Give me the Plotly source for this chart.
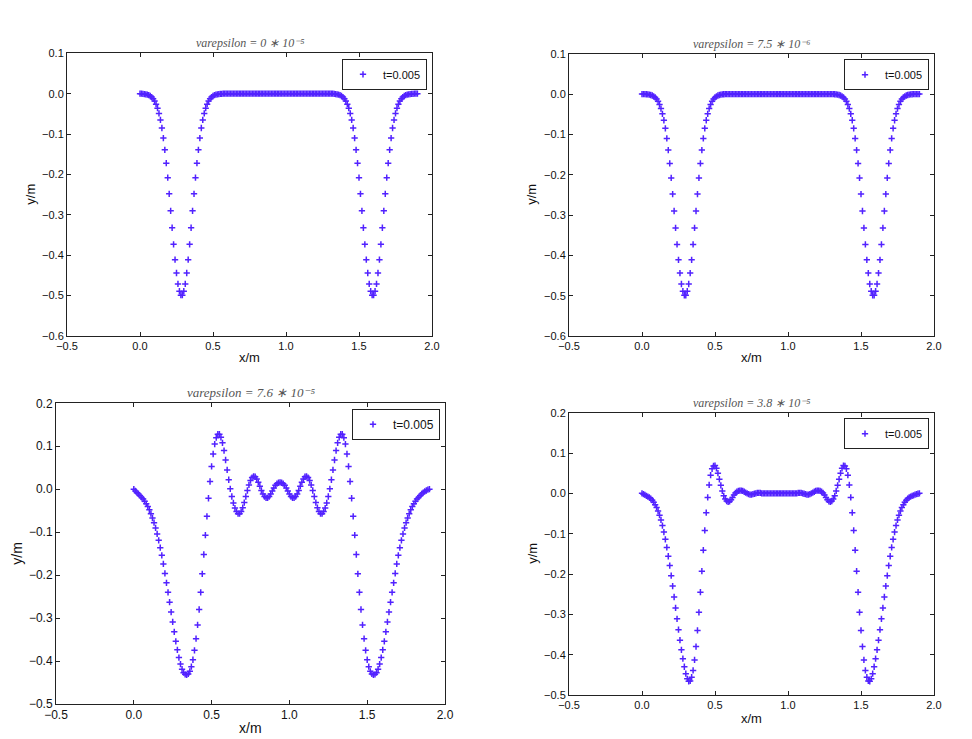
import plotly.graph_objects as go

# sampling grid: x = 0.00 ... 1.90, step 0.01
X_STEP = 0.01
N_POINTS = 191
x_m = [round(i * X_STEP, 2) for i in range(N_POINTS)]

series_name = "t=0.005"

# varepsilon = 0 * 10^-5
y_eps_0 = [
    0, 0, -0.0005, -0.001, -0.0015, -0.0024, -0.0037, -0.0057, -0.0085, -0.0125,
    -0.018, -0.026, -0.036, -0.049, -0.065, -0.085, -0.110, -0.139, -0.172, -0.208,
    -0.248, -0.290, -0.332, -0.373, -0.411, -0.444, -0.471, -0.489, -0.499, -0.499,
    -0.489, -0.471, -0.444, -0.411, -0.373, -0.332, -0.290, -0.248, -0.208, -0.172,
    -0.139, -0.110, -0.085, -0.065, -0.049, -0.036, -0.026, -0.018, -0.0125, -0.0085,
    -0.0057, -0.0037, -0.0024, -0.0015, -0.0009, -0.0005, -0.0003, 0, 0, 0,
    0, 0, 0, 0, 0, 0, 0, 0, 0, 0,
    0, 0, 0, 0, 0, 0, 0, 0, 0, 0,
    0, 0, 0, 0, 0, 0, 0, 0, 0, 0,
    0, 0, 0, 0, 0, 0, 0, 0, 0, 0,
    0, 0, 0, 0, 0, 0, 0, 0, 0, 0,
    0, 0, 0, 0, 0, 0, 0, 0, 0, 0,
    0, 0, 0, 0, 0, 0, 0, 0, 0, 0,
    0, 0, 0, -0.0005, -0.001, -0.0015, -0.0024, -0.0037, -0.0057, -0.0085,
    -0.0125, -0.018, -0.026, -0.036, -0.049, -0.065, -0.085, -0.110, -0.139, -0.172,
    -0.208, -0.248, -0.290, -0.332, -0.373, -0.411, -0.444, -0.471, -0.489, -0.499,
    -0.499, -0.489, -0.471, -0.444, -0.411, -0.373, -0.332, -0.290, -0.248, -0.208,
    -0.172, -0.139, -0.110, -0.085, -0.065, -0.049, -0.036, -0.026, -0.018, -0.0125,
    -0.0085, -0.0057, -0.0037, -0.0024, -0.0015, -0.0009, -0.0005, -0.0003, 0, 0,
    0,
]

# varepsilon = 7.5 * 10^-6
y_eps_7_5e6 = [
    0, 0, 0, -0.0005, -0.001, -0.0015, -0.0024, -0.0037, -0.0057, -0.0085,
    -0.0125, -0.018, -0.026, -0.036, -0.049, -0.065, -0.085, -0.110, -0.139, -0.172,
    -0.208, -0.248, -0.290, -0.332, -0.373, -0.411, -0.444, -0.471, -0.489, -0.499,
    -0.499, -0.489, -0.471, -0.444, -0.411, -0.373, -0.332, -0.290, -0.248, -0.208,
    -0.172, -0.139, -0.110, -0.085, -0.065, -0.049, -0.036, -0.026, -0.018, -0.0125,
    -0.0085, -0.0057, -0.0037, -0.0024, -0.0015, -0.0009, -0.0005, -0.0003, 0, 0,
    0, 0, 0, 0, 0, 0, 0, 0, 0, 0,
    0, 0, 0, 0, 0, 0, 0, 0, 0, 0,
    0, 0, 0, 0, 0, 0, 0, 0, 0, 0,
    0, 0, 0, 0, 0, 0, 0, 0, 0, 0,
    0, 0, 0, 0, 0, 0, 0, 0, 0, 0,
    0, 0, 0, 0, 0, 0, 0, 0, 0, 0,
    0, 0, 0, 0, 0, 0, 0, 0, 0, 0,
    0, 0, -0.0005, -0.001, -0.0015, -0.0024, -0.0037, -0.0057, -0.0085, -0.0125,
    -0.018, -0.026, -0.036, -0.049, -0.065, -0.085, -0.110, -0.139, -0.172, -0.208,
    -0.248, -0.290, -0.332, -0.373, -0.411, -0.444, -0.471, -0.489, -0.499, -0.499,
    -0.489, -0.471, -0.444, -0.411, -0.373, -0.332, -0.290, -0.248, -0.208, -0.172,
    -0.139, -0.110, -0.085, -0.065, -0.049, -0.036, -0.026, -0.018, -0.0125, -0.0085,
    -0.0057, -0.0037, -0.0024, -0.0015, -0.0009, -0.0005, -0.0003, 0, 0, 0,
    0,
]

# varepsilon = 7.6 * 10^-5
y_eps_7_6e5 = [
    0.000, -0.004, -0.008, -0.011, -0.015, -0.019, -0.023, -0.028, -0.034, -0.040,
    -0.048, -0.057, -0.067, -0.078, -0.090, -0.104, -0.119, -0.136, -0.154, -0.174,
    -0.196, -0.218, -0.240, -0.263, -0.286, -0.309, -0.332, -0.354, -0.374, -0.392,
    -0.407, -0.419, -0.427, -0.431, -0.432, -0.430, -0.424, -0.413, -0.397, -0.375,
    -0.348, -0.316, -0.280, -0.240, -0.197, -0.152, -0.107, -0.063, -0.021, 0.018,
    0.053, 0.082, 0.105, 0.120, 0.128, 0.128, 0.121, 0.108, 0.090, 0.068,
    0.045, 0.022, 0.001, -0.017, -0.032, -0.044, -0.052, -0.057, -0.057, -0.052,
    -0.043, -0.031, -0.017, -0.003, 0.010, 0.020, 0.027, 0.030, 0.029, 0.024,
    0.016, 0.007, -0.003, -0.011, -0.017, -0.020, -0.020, -0.017, -0.011, -0.004,
    0.003, 0.009, 0.013, 0.015, 0.016, 0.015, 0.013, 0.009, 0.003, -0.004,
    -0.011, -0.017, -0.020, -0.020, -0.017, -0.011, -0.003, 0.007, 0.016, 0.024,
    0.029, 0.030, 0.027, 0.020, 0.010, -0.003, -0.017, -0.031, -0.043, -0.052,
    -0.057, -0.057, -0.052, -0.044, -0.032, -0.017, 0.001, 0.022, 0.045, 0.068,
    0.090, 0.108, 0.121, 0.128, 0.128, 0.120, 0.105, 0.082, 0.053, 0.018,
    -0.021, -0.063, -0.107, -0.152, -0.197, -0.240, -0.280, -0.316, -0.348, -0.375,
    -0.397, -0.413, -0.424, -0.430, -0.432, -0.431, -0.427, -0.419, -0.407, -0.392,
    -0.374, -0.354, -0.332, -0.309, -0.286, -0.263, -0.240, -0.218, -0.196, -0.174,
    -0.154, -0.136, -0.119, -0.104, -0.090, -0.078, -0.067, -0.057, -0.048, -0.040,
    -0.034, -0.028, -0.023, -0.019, -0.015, -0.011, -0.008, -0.005, -0.003, -0.001,
    0.000,
]

# varepsilon = 3.8 * 10^-5
y_eps_3_8e5 = [
    0.000, -0.002, -0.004, -0.006, -0.008, -0.010, -0.013, -0.017, -0.022, -0.028,
    -0.035, -0.044, -0.054, -0.066, -0.080, -0.096, -0.114, -0.134, -0.156, -0.179,
    -0.204, -0.230, -0.257, -0.284, -0.311, -0.338, -0.364, -0.388, -0.410, -0.430,
    -0.447, -0.460, -0.466, -0.465, -0.456, -0.439, -0.413, -0.380, -0.340, -0.295,
    -0.245, -0.193, -0.141, -0.092, -0.048, -0.010, 0.021, 0.045, 0.061, 0.068,
    0.069, 0.062, 0.050, 0.035, 0.020, 0.006, -0.006, -0.014, -0.019, -0.021,
    -0.020, -0.016, -0.010, -0.004, 0.001, 0.004, 0.006, 0.007, 0.007, 0.006,
    0.004, 0.002, 0.000, -0.002, -0.003, -0.003, -0.002, -0.001, 0.000, 0.001,
    0.001, 0.001, 0.000, 0, 0, 0, 0, 0, 0, 0,
    0, 0, 0, 0, 0, 0, 0, 0, 0, 0,
    0, 0, 0, 0, 0, 0, 0.000, 0.001, 0.001, 0.001,
    0.000, -0.001, -0.002, -0.003, -0.003, -0.002, 0.000, 0.002, 0.004, 0.006,
    0.007, 0.007, 0.006, 0.004, 0.001, -0.004, -0.010, -0.016, -0.020, -0.021,
    -0.019, -0.014, -0.006, 0.006, 0.020, 0.035, 0.050, 0.062, 0.069, 0.068,
    0.061, 0.045, 0.021, -0.010, -0.048, -0.092, -0.141, -0.193, -0.245, -0.295,
    -0.340, -0.380, -0.413, -0.439, -0.456, -0.465, -0.466, -0.460, -0.447, -0.430,
    -0.410, -0.388, -0.364, -0.338, -0.311, -0.284, -0.257, -0.230, -0.204, -0.179,
    -0.156, -0.134, -0.114, -0.096, -0.080, -0.066, -0.054, -0.044, -0.035, -0.028,
    -0.022, -0.017, -0.013, -0.010, -0.008, -0.006, -0.005, -0.003, -0.002, -0.001,
    0.000,
]

for arr in (y_eps_0, y_eps_7_5e6, y_eps_7_6e5, y_eps_3_8e5):
    assert len(arr) == N_POINTS, len(arr)

panel_titles = [
    "varepsilon = 0 \u2217 10\u207b\u2075",
    "varepsilon = 7.5 \u2217 10\u207b\u2076",
    "varepsilon = 7.6 \u2217 10\u207b\u2075",
    "varepsilon = 3.8 \u2217 10\u207b\u2075",
]
x_label = "x/m"
y_label = "y/m"
x_ticks = [-0.5, 0.0, 0.5, 1.0, 1.5, 2.0]

# the page body adds an 8px margin; the figure fills the rest of the window
OFF = 8
W, H = 972 - OFF, 739 - OFF
COLOR = "#5222ff"
AX = "#222222"

# panel boxes in window pixels: (left, right, top, bottom)
panels = [
    dict(y=y_eps_0, title=panel_titles[0], px=(67, 432, 53.3, 336), yr=[-0.6, 0.1],
         fs=(11, 11, 13, 12), xl=21, yl=36),
    dict(y=y_eps_7_5e6, title=panel_titles[1], px=(569, 934, 53.7, 336), yr=[-0.6, 0.1],
         fs=(11, 11, 13, 12), xl=21, yl=37),
    dict(y=y_eps_7_6e5, title=panel_titles[2], px=(56, 445, 403.3, 704), yr=[-0.5, 0.2],
         fs=(12, 12, 14, 13), xl=24, yl=39),
    dict(y=y_eps_3_8e5, title=panel_titles[3], px=(569, 934, 412.7, 695), yr=[-0.5, 0.2],
         fs=(11, 11, 13, 12), xl=23, yl=36),
]

fig = go.Figure()
layout = dict(
    width=W, height=H, autosize=False,
    margin=dict(l=0, r=0, t=0, b=0, pad=0, autoexpand=False),
    paper_bgcolor="white", plot_bgcolor="white",
    showlegend=True,
    font=dict(family="Liberation Sans", size=12, color="#111111"),
)
annotations = []

for k, p in enumerate(panels):
    n = "" if k == 0 else str(k + 1)
    xa, ya = "x" + n, "y" + n
    l, r, t, b = [v - OFF for v in p["px"]]
    f_tick, f_leg, f_lab, f_title = p["fs"]
    fig.add_trace(go.Scatter(
        x=x_m, y=p["y"], mode="markers", name=series_name,
        xaxis=xa, yaxis=ya, legend="legend" + n,
        marker=dict(symbol="cross-thin", size=4.5, color=COLOR,
                    line=dict(width=1.5, color=COLOR)),
    ))
    common = dict(
        showline=True, linecolor=AX, linewidth=1, mirror="allticks",
        ticks="inside", ticklen=4, tickcolor=AX, tickwidth=1,
        showgrid=False, zeroline=False,
        tickfont=dict(family="Liberation Sans", size=f_tick, color="#111111"),
        tickformat=".1f",
    )
    layout["xaxis" + n] = dict(domain=[l / W, r / W], range=[-0.5, 2.0],
                               tickmode="array", tickvals=x_ticks,
                               anchor=ya, **common)
    layout["yaxis" + n] = dict(domain=[1 - b / H, 1 - t / H], range=p["yr"],
                               dtick=0.1, tick0=0, anchor=xa, **common)
    layout["legend" + n] = dict(
        x=(r - 5) / W, y=1 - (t + 5.5) / H, xanchor="right", yanchor="top",
        bordercolor=AX, borderwidth=1, bgcolor="white",
        font=dict(family="Liberation Sans", size=f_leg, color="#111111"),
        itemwidth=30, tracegroupgap=0,
    )
    cx = (l + r) / 2 / W
    annotations.append(dict(
        text=p["title"], x=cx, y=1 - t / H, xref="paper", yref="paper",
        xanchor="center", yanchor="bottom", yshift=1, showarrow=False,
        font=dict(family="Liberation Serif", size=f_title, color="#555555",
                  style="italic"),
    ))
    annotations.append(dict(
        text=x_label, x=cx, y=1 - b / H, xref="paper", yref="paper",
        xanchor="center", yanchor="middle", yshift=-p["xl"], showarrow=False,
        font=dict(family="Liberation Sans", size=f_lab, color="#111111"),
    ))
    annotations.append(dict(
        text=y_label, x=l / W, y=1 - (t + b) / 2 / H, xref="paper", yref="paper",
        xanchor="center", yanchor="middle", xshift=-p["yl"], textangle=-90,
        showarrow=False,
        font=dict(family="Liberation Sans", size=f_lab, color="#111111"),
    ))

layout["annotations"] = annotations
fig.update_layout(**layout)
fig.write_html("out.html")
